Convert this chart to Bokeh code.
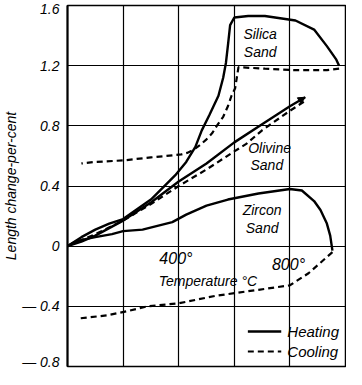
from bokeh.plotting import figure
from bokeh.models import Range1d, FixedTicker, Label, Legend, LegendItem, Arrow, NormalHead
from bokeh.embed import file_html
from bokeh.resources import INLINE

# ---- data (temperature °C, length change %) ----
silica_heat_t = [0, 50, 100, 150, 200, 300, 387, 427, 460, 483, 510, 543, 560, 570, 578, 585, 600, 650, 710, 820, 887, 933, 967, 977]
silica_heat_v = [0, 0.06, 0.11, 0.15, 0.18, 0.31, 0.47, 0.56, 0.66, 0.77, 0.87, 1.0, 1.12, 1.22, 1.35, 1.47, 1.52, 1.53, 1.53, 1.50, 1.44, 1.33, 1.24, 1.20]
silica_cool_t = [977, 933, 820, 710, 615, 603, 590, 577, 560, 537, 520, 500, 475, 453, 430, 410, 300, 200, 100, 50]
silica_cool_v = [1.18, 1.17, 1.17, 1.18, 1.19, 1.05, 1.0, 0.93, 0.86, 0.80, 0.75, 0.71, 0.67, 0.64, 0.62, 0.61, 0.59, 0.57, 0.56, 0.55]

olivine_heat_t = [0, 50, 100, 150, 200, 300, 400, 500, 600, 700, 800, 855]
olivine_heat_v = [0, 0.03, 0.07, 0.12, 0.17, 0.29, 0.43, 0.55, 0.69, 0.81, 0.93, 0.99]
olivine_cool_t = [850, 800, 700, 643, 600, 500, 400, 300, 200, 100, 50, 0]
olivine_cool_v = [0.96, 0.90, 0.77, 0.68, 0.63, 0.51, 0.40, 0.28, 0.17, 0.08, 0.04, 0]

zircon_heat_t = [0, 30, 60, 100, 160, 200, 270, 377, 427, 500, 577, 687, 800, 843, 887, 910, 933, 945, 953]
zircon_heat_v = [0, 0.03, 0.045, 0.06, 0.08, 0.10, 0.11, 0.16, 0.21, 0.27, 0.31, 0.35, 0.38, 0.37, 0.30, 0.24, 0.15, 0.07, -0.03]
zircon_cool_t = [953, 910, 867, 800, 687, 533, 400, 287, 220, 143, 43]
zircon_cool_v = [-0.04, -0.11, -0.18, -0.26, -0.29, -0.33, -0.38, -0.40, -0.43, -0.46, -0.48]

y_ticks = [-0.8, -0.4, 0, 0.4, 0.8, 1.2, 1.6]
y_tick_labels = ["— 0.8", "— 0.4", "0", "0.4", "0.8", "1.2", "1.6"]
x_grid = [200, 400, 600, 800]

FONT = "Liberation Sans"

p = figure(width=346, height=369, output_backend="svg", toolbar_location=None,
           x_range=Range1d(0, 1000), y_range=Range1d(-0.8, 1.6),
           min_border_left=40, min_border_right=1, min_border_top=5, min_border_bottom=3)
p.background_fill_color = "white"
p.outline_line_color = "black"
p.outline_line_width = 1.5

p.xaxis.visible = False
p.xgrid.ticker = FixedTicker(ticks=x_grid)
p.ygrid.ticker = FixedTicker(ticks=y_ticks)
for g in (p.xgrid, p.ygrid):
    g.grid_line_color = "black"
    g.grid_line_width = 1.2

ya = p.yaxis[0]
ya.ticker = FixedTicker(ticks=y_ticks)
ya.major_label_overrides = {t: s for t, s in zip(y_ticks, y_tick_labels)}
ya.major_label_text_font = FONT
ya.major_label_text_font_style = "italic"
ya.major_label_text_font_size = "14px"
ya.major_label_text_color = "black"
ya.major_label_standoff = 2
ya.major_tick_line_color = None
ya.minor_tick_line_color = None
ya.axis_line_width = 2
ya.axis_line_color = "black"
ya.axis_label = "Length change-per-cent"
ya.axis_label_text_font = FONT
ya.axis_label_text_font_style = "italic"
ya.axis_label_text_font_size = "14px"
ya.axis_label_text_color = "black"
ya.axis_label_standoff = 0

SW, DW, DASH = 2.4, 2.2, "6 4"
h1 = p.line(silica_heat_t, silica_heat_v, line_color="black", line_width=SW)
c1 = p.line(silica_cool_t, silica_cool_v, line_color="black", line_width=DW, line_dash=DASH)
p.line(olivine_heat_t, olivine_heat_v, line_color="black", line_width=SW)
p.line(olivine_cool_t, olivine_cool_v, line_color="black", line_width=DW, line_dash=DASH)
p.line(zircon_heat_t, zircon_heat_v, line_color="black", line_width=SW)
p.line(zircon_cool_t, zircon_cool_v, line_color="black", line_width=DW, line_dash=DASH)

# small arrowhead at the end of the olivine heating curve
p.add_layout(Arrow(end=NormalHead(size=7, fill_color="black", line_color="black"),
                   x_start=olivine_heat_t[-2], y_start=olivine_heat_v[-2],
                   x_end=olivine_heat_t[-1], y_end=olivine_heat_v[-1],
                   line_alpha=0))

def lab(x, y, text, size="14px"):
    p.add_layout(Label(x=x, y=y, text=text, text_font=FONT, text_font_style="italic",
                       text_font_size=size, text_align="center", text_baseline="middle",
                       text_color="black"))

lab(693, 1.41, "Silica")
lab(693, 1.29, "Sand")
lab(727, 0.65, "Olivine")
lab(717, 0.54, "Sand")
lab(700, 0.24, "Zircon")
lab(700, 0.12, "Sand")
lab(390, -0.08, "400°", "16px")
lab(795, -0.12, "800°", "16px")
lab(505, -0.23, "Temperature °C", "14px")

legend = Legend(items=[LegendItem(label="Heating", renderers=[h1]),
                       LegendItem(label="Cooling", renderers=[c1])],
                location="bottom_right", background_fill_alpha=0, border_line_alpha=0,
                glyph_width=34, glyph_height=18, spacing=2, padding=2, margin=4,
                label_standoff=6, label_text_font=FONT, label_text_font_style="italic",
                label_text_font_size="15px", label_text_color="black")
p.add_layout(legend)

open("out.html", "w").write(file_html(p, INLINE))
